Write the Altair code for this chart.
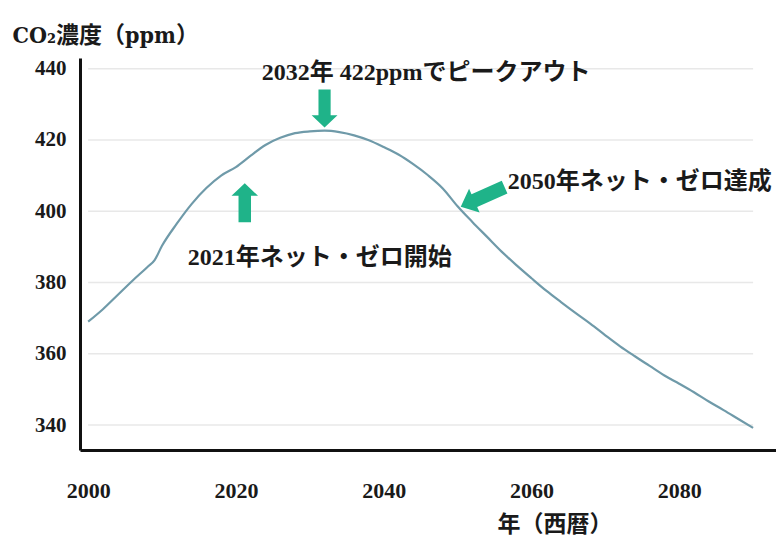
import altair as alt
import pandas as pd

# ---- data ----
years = [2000, 2002, 2004, 2006, 2008, 2009, 2010, 2012, 2014, 2016, 2018, 2020,
         2022, 2024, 2026, 2028, 2030, 2032, 2034, 2036, 2038, 2040, 2042, 2044,
         2046, 2048, 2050, 2052, 2054, 2056, 2058, 2060, 2062, 2064, 2066, 2068,
         2070, 2072, 2074, 2076, 2078, 2080, 2082, 2084, 2086, 2088, 2090]
co2 = [369.0, 372.5, 376.5, 380.5, 384.3, 386.3, 390.3, 396.5, 402.0, 406.5, 410.0, 412.4,
       415.6, 418.6, 420.6, 421.9, 422.4, 422.6, 422.2, 421.3, 419.9, 418.0, 415.9, 413.2,
       410.1, 406.4, 401.4, 397.0, 392.8, 388.6, 384.8, 381.2, 377.7, 374.5, 371.4, 368.4,
       365.2, 362.1, 359.3, 356.6, 353.9, 351.6, 349.2, 346.6, 344.2, 341.7, 339.2]

y_ticks = [340, 360, 380, 400, 420, 440]
x_ticks = [2000, 2020, 2040, 2060, 2080]
grid_start, grid_end = 2000, 2090

ann_text = ["2032年 422ppmでピークアウト", "2021年ネット・ゼロ開始", "2050年ネット・ゼロ達成"]
ann_year = [2023.5, 2013.5, 2056.8]
ann_ppm = [438.7, 386.9, 408.2]

arrow_down = {"year": [2032.0], "ppm": [428.8]}
arrow_up = {"year": [2021.2], "ppm": [402.4]}
arrow_diag = {"year": [2053.4], "ppm": [404.0]}

# ---- chart ----
SERIF_JP = "Liberation Serif, Noto Sans CJK JP"
GREEN = "#1fb389"
INK = "#1a1a1a"
xscale = alt.Scale(domain=[1998.9, 2093.1], nice=False, zero=False)
yscale = alt.Scale(domain=[333, 443], nice=False, zero=False)

x_axis = alt.Axis(values=x_ticks, format="d", grid=False, ticks=False,
                  domainColor="#111", domainWidth=3,
                  labelFont="Liberation Serif", labelFontWeight="bold",
                  labelFontSize=22, labelColor=INK, labelPadding=30,
                  title="年（西暦）", titleFont="Noto Sans CJK JP",
                  titleFontWeight="bold", titleFontSize=23, titleColor=INK,
                  titleAlign="left", titleX=417, titleY=74,
                  titleBaseline="middle", titleAnchor="start")
y_axis = alt.Axis(values=y_ticks, grid=False, ticks=False,
                  domainColor="#111", domainWidth=3,
                  labelFont="Liberation Serif", labelFontWeight="bold",
                  labelFontSize=21, labelColor=INK, labelPadding=14,
                  title="CO₂濃度（ppm）", titleFont="DejaVu Serif Condensed, Liberation Serif, Noto Sans CJK JP",
                  titleFontWeight="bold", titleFontSize=23, titleColor=INK,
                  titleAngle=0, titleAlign="left", titleX=-68, titleY=-16,
                  titleBaseline="alphabetic", titleAnchor="start")

df = pd.DataFrame({"year": years, "co2": co2})
grid_df = pd.DataFrame({"ppm": y_ticks})
ann_df = pd.DataFrame({"text": ann_text, "year": ann_year, "ppm": ann_ppm})

line = alt.Chart(df).mark_line(color="#6f9aa9", strokeWidth=2.2, interpolate="monotone").encode(
    x=alt.X("year:Q", scale=xscale, axis=x_axis),
    y=alt.Y("co2:Q", scale=yscale, axis=y_axis),
)

grid = alt.Chart(grid_df).mark_rule(color="#e8e8e8", strokeWidth=1.5).encode(
    x=alt.X(datum=grid_start, scale=xscale, axis=x_axis),
    x2=alt.X2(datum=grid_end),
    y=alt.Y("ppm:Q", scale=yscale, axis=y_axis),
)

vert_path = "M-0.32,-1 L0.32,-1 L0.32,0.35 L0.68,0.35 L0,1 L-0.68,0.35 L-0.32,0.35 Z"
diag_path = "M-0.29,-1 L0.29,-1 L0.29,0.38 L0.54,0.38 L0,1 L-0.54,0.38 L-0.29,0.38 Z"


def arrow(d, path, size, angle):
    return alt.Chart(pd.DataFrame(d)).mark_point(
        shape=path, size=size, angle=angle, filled=True, color=GREEN, opacity=1,
        strokeWidth=0,
    ).encode(
        x=alt.X("year:Q", scale=xscale, axis=x_axis),
        y=alt.Y("ppm:Q", scale=yscale, axis=y_axis),
    )


a1 = arrow(arrow_down, vert_path, 1444, 0)
a2 = arrow(arrow_up, vert_path, 1521, 180)
a3 = arrow(arrow_diag, diag_path, 2304, 66)

texts = alt.Chart(ann_df).mark_text(
    align="left", baseline="middle", font=SERIF_JP, fontWeight="bold",
    fontSize=24, color=INK,
).encode(
    x=alt.X("year:Q", scale=xscale, axis=x_axis),
    y=alt.Y("ppm:Q", scale=yscale, axis=y_axis),
    text="text:N",
)

chart = alt.layer(grid, line, a1, a2, a3, texts).properties(
    width=696, height=392,
    autosize=alt.AutoSizeParams(type="none"),
    padding={"left": 80, "top": 58, "right": 0, "bottom": 90},
    background="white",
).configure_view(stroke=None)

chart.save("out.html", embed_options={"renderer": "svg", "actions": False})
